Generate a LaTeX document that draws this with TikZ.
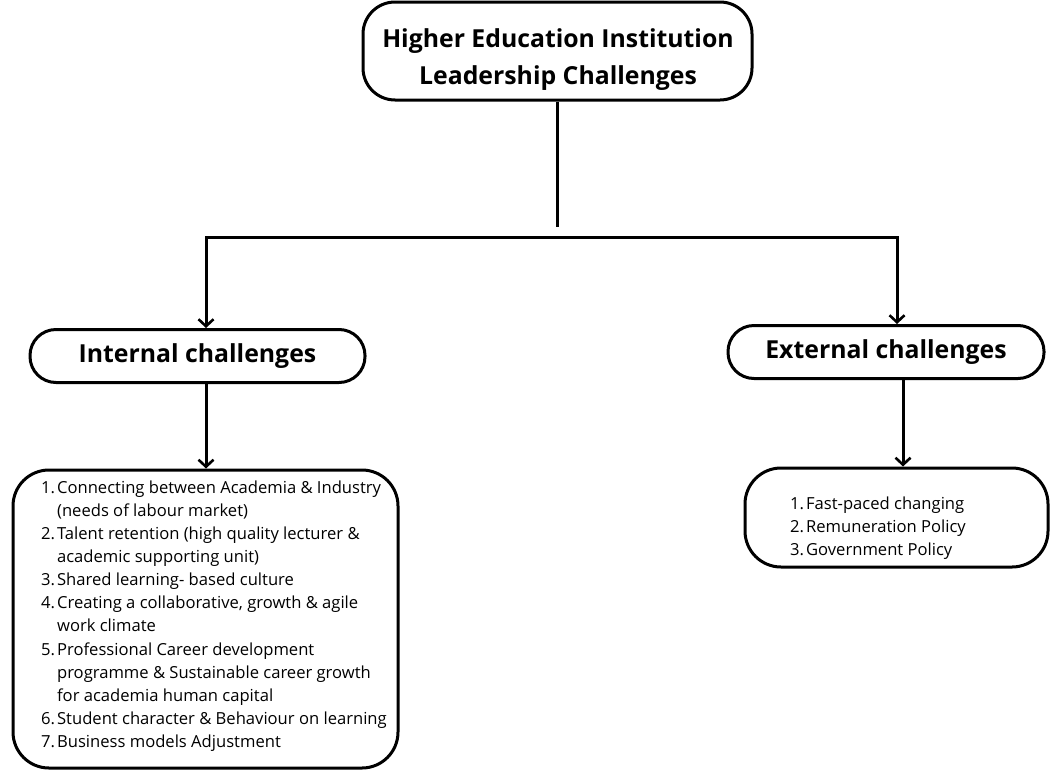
\documentclass[tikz,border=0pt]{standalone}
\usepackage{fontspec}
\setmainfont{Open Sans}
\usetikzlibrary{arrows.meta}
\begin{document}
\begin{tikzpicture}[x=1pt,y=-1pt,
  box/.style={draw,line width=3pt,rounded corners=#1,inner sep=0pt},
  head/.style={font=\fontsize{24.8}{37}\selectfont\bfseries,align=center},
  item/.style={font=\fontsize{16.6}{23.1}\selectfont,inner sep=0pt,anchor=north west},
  link/.style={line width=3pt},
  arr/.style={line width=3pt,-{Straight Barb[length=7pt,width=15pt,line width=2.6pt]}}]
\useasboundingbox (0,0) rectangle (1056,771);
\node[box=32pt,minimum width=389pt,minimum height=98pt] (top) at (557.5,51) {};
\node[head] (toptxt) at (558,60) {Higher Education Institution\\Leadership Challenges};
\node[box=26pt,minimum width=335pt,minimum height=53pt,head] (int) at (197.5,356) {Internal challenges};
\node[box=26pt,minimum width=316pt,minimum height=53pt,head] (ext) at (886,352) {External challenges};
\node[box=36pt,minimum width=385pt,minimum height=298pt] (intlist) at (205.5,619) {};
\node[box=36pt,minimum width=303pt,minimum height=99pt] (extlist) at (896.5,517.5) {};
\node[item] (inttxt) at (41,477) {\begin{tabular}{@{}r@{\hspace{2pt}}l@{}}
1.&Connecting between Academia \& Industry\\
 &(needs of labour market)\\
2.&Talent retention (high quality lecturer \&\\
 &academic supporting unit)\\
3.&Shared learning- based culture\\
4.&Creating a collaborative, growth \& agile\\
 &work climate\\
5.&Professional Career development\\
 &programme \& Sustainable career growth\\
 &for academia human capital\\
6.&Student character \& Behaviour on learning\\
7.&Business models Adjustment
\end{tabular}};
\node[item] (exttxt) at (790,493) {\begin{tabular}{@{}r@{\hspace{2pt}}l@{}}
1.&Fast-paced changing\\
2.&Remuneration Policy\\
3.&Government Policy
\end{tabular}};
\coordinate (tj) at (557.5,227);
\coordinate (jl) at (206,237);
\coordinate (jr) at (897,237);
\coordinate (rd) at (903,0);
\draw[link] (top.south) -- (tj);
\draw[link,line cap=rect] (jl) -- (jr);
\draw[arr] (jl) -- (jl |- int.north);
\draw[arr] (jr) -- (jr |- ext.north);
\draw[arr] (int.south -| jl) -- (intlist.north -| jl);
\draw[arr] (ext.south -| rd) -- (extlist.north -| rd);
\end{tikzpicture}
\end{document}
